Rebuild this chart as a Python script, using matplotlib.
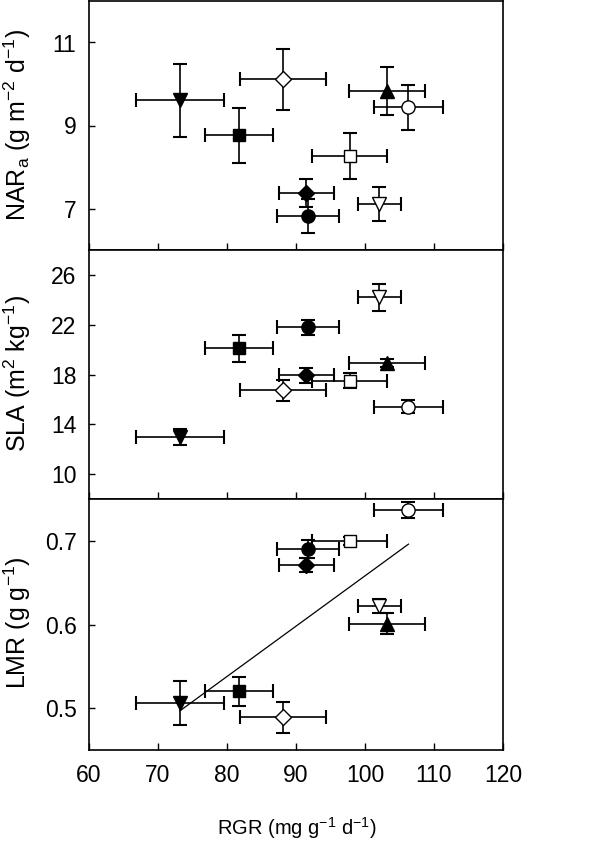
import numpy as np
import matplotlib
matplotlib.use("Agg")
import matplotlib.pyplot as plt
from matplotlib import font_manager

names = {f.name for f in font_manager.fontManager.ttflist}
if "Liberation Sans Narrow" in names:
    FAM = "Liberation Sans Narrow"
    TS, LS, XS = 17, 18, 15
else:
    FAM = "Liberation Sans"
    TS, LS, XS = 16.5, 18, 14.5

plt.rcParams['font.family'] = [FAM, 'DejaVu Sans']
plt.rcParams['mathtext.default'] = 'regular'

# ---- data ----
rgr = [73.2, 81.7, 88.1, 103.2, 106.3, 97.8, 91.5, 91.7, 102.1]
rgr_err = [6.4, 4.9, 6.2, 5.5, 4.95, 5.45, 4.0, 4.5, 3.05]
nar = [9.61, 8.76, 10.11, 9.83, 9.44, 8.27, 7.38, 6.82, 7.10]
nar_err = [0.88, 0.67, 0.73, 0.57, 0.54, 0.56, 0.34, 0.42, 0.41]
sla = [12.99, 20.11, 16.72, 18.93, 15.41, 17.49, 17.92, 21.81, 24.19]
sla_err = [0.62, 1.08, 0.84, 0.35, 0.52, 0.6, 0.58, 0.6, 1.08]
lmr = [0.506, 0.520, 0.489, 0.601, 0.737, 0.700, 0.671, 0.690, 0.622]
lmr_err = [0.0265, 0.017, 0.0185, 0.0125, 0.010, 0.005, 0.0085, 0.011, 0.0085]

markers = ['v', 's', 'D', '^', 'o', 's', 'D', 'o', 'v']
faces = ['k', 'k', 'w', 'k', 'w', 'w', 'k', 'k', 'w']
msizes = {'v': 10.5, '^': 10.5, 's': 9, 'D': 8.2, 'o': 9.5}

x_ticks = [60, 70, 80, 90, 100, 110, 120]
nar_ticks = [7, 9, 11]
sla_ticks = [10, 14, 18, 22, 26]
lmr_ticks = [0.5, 0.6, 0.7]
lmr_ticklabels = ['0.5', '0.6', '0.7']

fig = plt.figure(figsize=(5.95, 8.41), dpi=100)
L, W = 89/595, 414/595
ax1 = fig.add_axes([L, 1-250/841, W, 249/841])
ax2 = fig.add_axes([L, 1-499/841, W, 249/841])
ax3 = fig.add_axes([L, 1-750/841, W, 251/841])

panels = [(ax1, nar, nar_err, (6, 12), nar_ticks, None),
          (ax2, sla, sla_err, (8, 28), sla_ticks, None),
          (ax3, lmr, lmr_err, (0.45, 0.75), lmr_ticks, lmr_ticklabels)]

for ax, yv, ye, ylim, yt, ytl in panels:
    for i in range(len(rgr)):
        ax.errorbar(rgr[i], yv[i], xerr=rgr_err[i], yerr=ye[i], fmt='none',
                    ecolor='k', elinewidth=1.2, capsize=5, capthick=1.5, zorder=2)
        ax.plot(rgr[i], yv[i], marker=markers[i], ms=msizes[markers[i]],
                mfc=faces[i], mec='k', mew=1.0, ls='none', zorder=3)
    ax.set_xlim(60, 120)
    ax.set_ylim(*ylim)
    ax.set_xticks(x_ticks)
    ax.set_yticks(yt)
    if ytl is not None:
        ax.set_yticklabels(ytl)
    ax.tick_params(axis='both', direction='in', width=1.0, labelsize=TS,
                   top=False, right=False)
    ax.tick_params(axis='x', length=5, pad=10)
    ax.tick_params(axis='y', length=4.5, pad=9)
    for s in ax.spines.values():
        s.set_linewidth(1.2)

ax1.tick_params(axis='x', labelbottom=False)
ax2.tick_params(axis='x', labelbottom=False)

# regression line LMR vs RGR
coef = np.polyfit(rgr, lmr, 1)
xs = np.linspace(min(rgr), max(rgr), 50)
ax3.plot(xs, np.polyval(coef, xs), color='k', lw=0.9, zorder=1)

fig.text(17/595, 1-125/841, r'NAR$_{a}$ (g m$^{-2}$ d$^{-1}$)', rotation=90,
         ha='center', va='center', fontsize=LS)
fig.text(17/595, 1-373/841, r'SLA (m$^{2}$ kg$^{-1}$)', rotation=90,
         ha='center', va='center', fontsize=LS)
fig.text(17/595, 1-623/841, r'LMR (g g$^{-1}$)', rotation=90,
         ha='center', va='center', fontsize=LS)
fig.text(297/595, 1-828/841, r'RGR (mg g$^{-1}$ d$^{-1}$)',
         ha='center', va='center', fontsize=XS)

fig.savefig('out.png', dpi=100)
